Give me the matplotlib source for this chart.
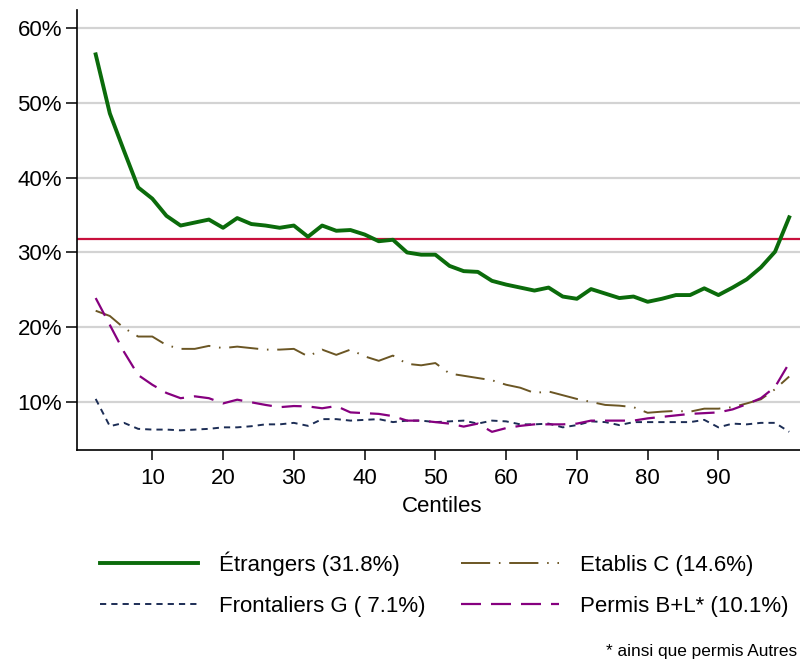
import numpy as np
import matplotlib.pyplot as plt
from matplotlib.ticker import FuncFormatter

plt.rcParams['font.family'] = ['Liberation Sans', 'DejaVu Sans']

# centiles 2, 4, ..., 100
centiles = np.arange(2, 101, 2)

etrangers = [56.5, 48.6, 43.6, 38.7, 37.2, 34.9, 33.6, 34.0, 34.4, 33.3,
             34.6, 33.8, 33.6, 33.3, 33.6, 32.1, 33.6, 32.9, 33.0, 32.4,
             31.5, 31.7, 30.0, 29.7, 29.7, 28.2, 27.5, 27.4, 26.2, 25.7,
             25.3, 24.9, 25.3, 24.1, 23.8, 25.1, 24.5, 23.9, 24.1, 23.4,
             23.8, 24.3, 24.3, 25.2, 24.3, 25.3, 26.4, 28.0, 30.1, 34.7]

etablis_c = [22.2, 21.5, 19.9, 18.75, 18.75, 17.6, 17.1, 17.1, 17.5, 17.2,
             17.4, 17.2, 17.0, 17.0, 17.1, 16.1, 17.0, 16.3, 17.0, 16.1,
             15.5, 16.2, 15.1, 14.9, 15.2, 13.8, 13.5, 13.2, 12.9, 12.3,
             11.9, 11.2, 11.4, 10.9, 10.4, 10.0, 9.6, 9.5, 9.3, 8.55,
             8.7, 8.8, 8.7, 9.1, 9.1, 9.3, 9.8, 10.35, 11.7, 13.4]

frontaliers_g = [10.4, 6.75, 7.2, 6.4, 6.3, 6.3, 6.2, 6.3, 6.4, 6.6,
                 6.6, 6.75, 7.0, 7.0, 7.2, 6.8, 7.7, 7.7, 7.5, 7.6,
                 7.7, 7.3, 7.5, 7.5, 7.3, 7.4, 7.5, 7.1, 7.5, 7.4,
                 7.0, 7.0, 7.1, 6.6, 6.9, 7.4, 7.3, 6.9, 7.3, 7.3,
                 7.3, 7.3, 7.3, 7.6, 6.6, 7.1, 7.0, 7.2, 7.2, 6.0]

permis_bl = [23.9, 20.3, 16.7, 13.6, 12.3, 11.2, 10.5, 10.75, 10.5, 9.8,
             10.3, 9.95, 9.6, 9.3, 9.45, 9.4, 9.15, 9.45, 8.6, 8.5,
             8.4, 8.1, 7.5, 7.5, 7.3, 7.1, 6.7, 7.1, 6.0, 6.5,
             6.8, 7.0, 7.0, 7.0, 7.1, 7.5, 7.5, 7.5, 7.5, 7.8,
             8.0, 8.2, 8.4, 8.5, 8.6, 9.0, 9.7, 10.5, 12.0, 15.2]

moyenne = 31.8

labels = ['Étrangers (31.8%)', 'Frontaliers G ( 7.1%)',
          'Etablis C (14.6%)', 'Permis B+L* (10.1%)']

fig = plt.figure(figsize=(8, 6.61), dpi=100)
ax = fig.add_axes([0.0966, 0.319, 0.912, 0.666])

ax.yaxis.grid(True, color='#d3d3d3', lw=1.6)
ax.set_axisbelow(True)

ax.axhline(moyenne, color='#c8103c', lw=1.6, zorder=2)

l1, = ax.plot(centiles, etrangers, color='#0b6b0b', lw=2.8, zorder=5)
l2, = ax.plot(centiles, frontaliers_g, color='#1c2d55', lw=1.4,
              dashes=(3.2, 2.6), zorder=4)
l3, = ax.plot(centiles, etablis_c, color='#6b5624', lw=1.4,
              dashes=(15, 4.5, 0.8, 4.5), zorder=4)
l4, = ax.plot(centiles, permis_bl, color='#86007f', lw=1.6,
              dashes=(9, 4.5), zorder=4)

ax.set_xlim(-0.6, 102.5)
ax.set_ylim(3.55, 62.45)
ax.set_xticks(range(10, 100, 10))
ax.set_yticks(range(10, 61, 10))
ax.yaxis.set_major_formatter(FuncFormatter(lambda v, p: f'{v:.0f}%'))
ax.tick_params(labelsize=16, width=1.1, direction='out')
ax.tick_params(axis='y', length=8, pad=3)
ax.tick_params(axis='x', length=7, pad=6)
for s in ['top', 'right']:
    ax.spines[s].set_visible(False)
for s in ['left', 'bottom']:
    ax.spines[s].set_linewidth(1.2)
ax.set_xlabel('Centiles', fontsize=16, labelpad=5)

fig.legend([l1, l2, l3, l4], labels, ncol=2, frameon=False, fontsize=16,
           loc='upper left', bbox_to_anchor=(0.125, 0.166),
           handlelength=4.4, handletextpad=0.95, columnspacing=1.6,
           labelspacing=0.9, borderaxespad=0, borderpad=0)

fig.text(0.757, 0.008, '* ainsi que permis Autres', fontsize=12.4)

fig.savefig('out.png', dpi=100)
